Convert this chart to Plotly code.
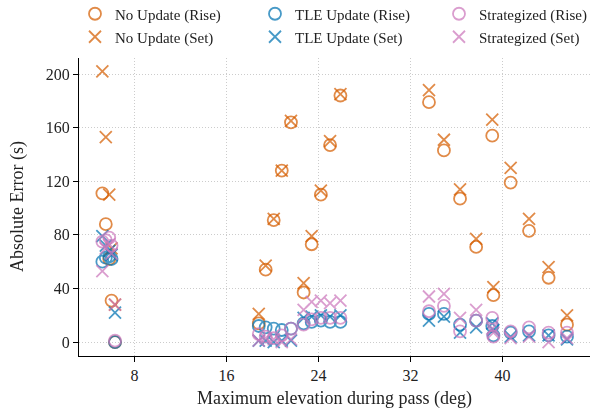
import plotly.graph_objects as go

# Pass maximum elevations (deg)
elev = [5.2, 5.5, 5.8, 6.0, 6.3,
        18.8, 19.4, 20.1, 20.8, 21.6, 22.7, 23.4, 24.2, 25.0, 25.9,
        33.6, 34.9, 36.3, 37.7, 39.1, 39.2, 40.7, 42.3, 44.0, 45.6]

no_update_rise = [111, 88, 62, 31, 0,
                  14, 54, 91, 128, 164, 37, 73, 110, 147, 184,
                  179, 143, 107, 71, 154, 35, 119, 83, 48, 13]
no_update_set = [202, 153, 110, 70, 28,
                 21, 57, 92, 128, 165, 44, 79, 113, 150, 185,
                 188, 151, 114, 77, 166, 41, 130, 92, 56, 20]
tle_rise = [60, 63, 64, 62, 0,
            12, 11, 10, 9, 10, 14, 15, 16, 15, 15,
            21, 21, 13, 16, 12, 5, 7, 8, 5, 4]
tle_set = [79, 72, 68, 65, 22,
           1, 1, 0, 1, 1, 18, 19, 20, 19, 20,
           16, 19, 7, 11, 14, 9, 4, 5, 5, 2]
strat_rise = [75, 76, 78, 72, 1,
              6, 4, 3, 5, 10, 13, 17, 18, 18, 18,
              23, 27, 8, 16, 18, 4, 8, 11, 7, 7]
strat_set = [53, 70, 73, 66, 28,
             1, 3, 2, 0, 2, 24, 30, 31, 29, 31,
             34, 36, 18, 24, 10, 7, 3, 4, 0, 3]

x_ticks = [8, 16, 24, 32, 40]
y_ticks = [0, 40, 80, 120, 160, 200]
x_title = "Maximum elevation during pass (deg)"
y_title = "Absolute Error (s)"

ORANGE = "#d55e00"
BLUE = "#0173b2"
PINK = "#cc78bc"
ALPHA = 0.72

W, H = 591, 414
ML, MR, MT, MB = 79, 1, 58, 58
PW, PH = W - ML - MR, H - MT - MB

# name, values, colour, symbol, legend id, legend column, legend row
series = [
    ("No Update (Rise)", no_update_rise, ORANGE, "circle-open", "legend", 0, 0),
    ("No Update (Set)", no_update_set, ORANGE, "x-thin-open", "legend2", 0, 1),
    ("TLE Update (Rise)", tle_rise, BLUE, "circle-open", "legend3", 1, 0),
    ("TLE Update (Set)", tle_set, BLUE, "x-thin-open", "legend4", 1, 1),
    ("Strategized (Rise)", strat_rise, PINK, "circle-open", "legend5", 2, 0),
    ("Strategized (Set)", strat_set, PINK, "x-thin-open", "legend6", 2, 1),
]

font_family = "Liberation Serif"
col_x = [75, 255, 439]
row_y = [14, 37]

fig = go.Figure()
legends = {}
for name, vals, col, sym, leg, c, r in series:
    fig.add_trace(go.Scatter(
        x=elev, y=vals, mode="markers", name=name, legend=leg,
        opacity=ALPHA,
        marker=dict(symbol=sym, size=12,
                    color=col, line=dict(color=col, width=1.8)),
    ))
    legends[leg] = dict(
        orientation="v", xref="container", yref="container",
        xanchor="left", yanchor="middle",
        x=col_x[c] / W, y=1 - row_y[r] / H,
        font=dict(family=font_family, size=15, color="#222"),
        bgcolor="rgba(0,0,0,0)", itemsizing="trace",
    )

axis_common = dict(
    showgrid=True, gridcolor="#cccccc", griddash="1px,2px", gridwidth=1,
    zeroline=False, showline=True, linecolor="black", linewidth=1.3,
    ticks="outside", ticklen=5, tickwidth=1.2, tickcolor="black",
    tickfont=dict(family=font_family, size=16, color="#222"),
    automargin=False,
)

fig.update_layout(
    width=W, height=H,
    margin=dict(l=ML, r=MR, t=MT, b=MB, autoexpand=False),
    paper_bgcolor="white", plot_bgcolor="white",
    font=dict(family=font_family, size=15, color="#222"),
    showlegend=True,
    xaxis=dict(range=[3.17, 47.6], tickvals=x_ticks,
               ticktext=[str(t) for t in x_ticks], **axis_common),
    yaxis=dict(range=[-10.4, 212], tickvals=y_ticks,
               ticktext=[str(t) for t in y_ticks], **axis_common),
    annotations=[
        dict(text=x_title, xref="paper", yref="paper",
             x=0.5, y=-(398 - (H - MB)) / PH, xanchor="center", yanchor="middle",
             showarrow=False, font=dict(family=font_family, size=18, color="#222")),
        dict(text=y_title, xref="paper", yref="paper", textangle=-90,
             x=-(ML - 17) / PW, y=0.5, xanchor="center", yanchor="middle",
             showarrow=False, font=dict(family=font_family, size=18, color="#222")),
    ],
    **legends,
)

fig.write_html("out.html", config={"displayModeBar": False},
               post_script="document.body.style.margin='0';")
